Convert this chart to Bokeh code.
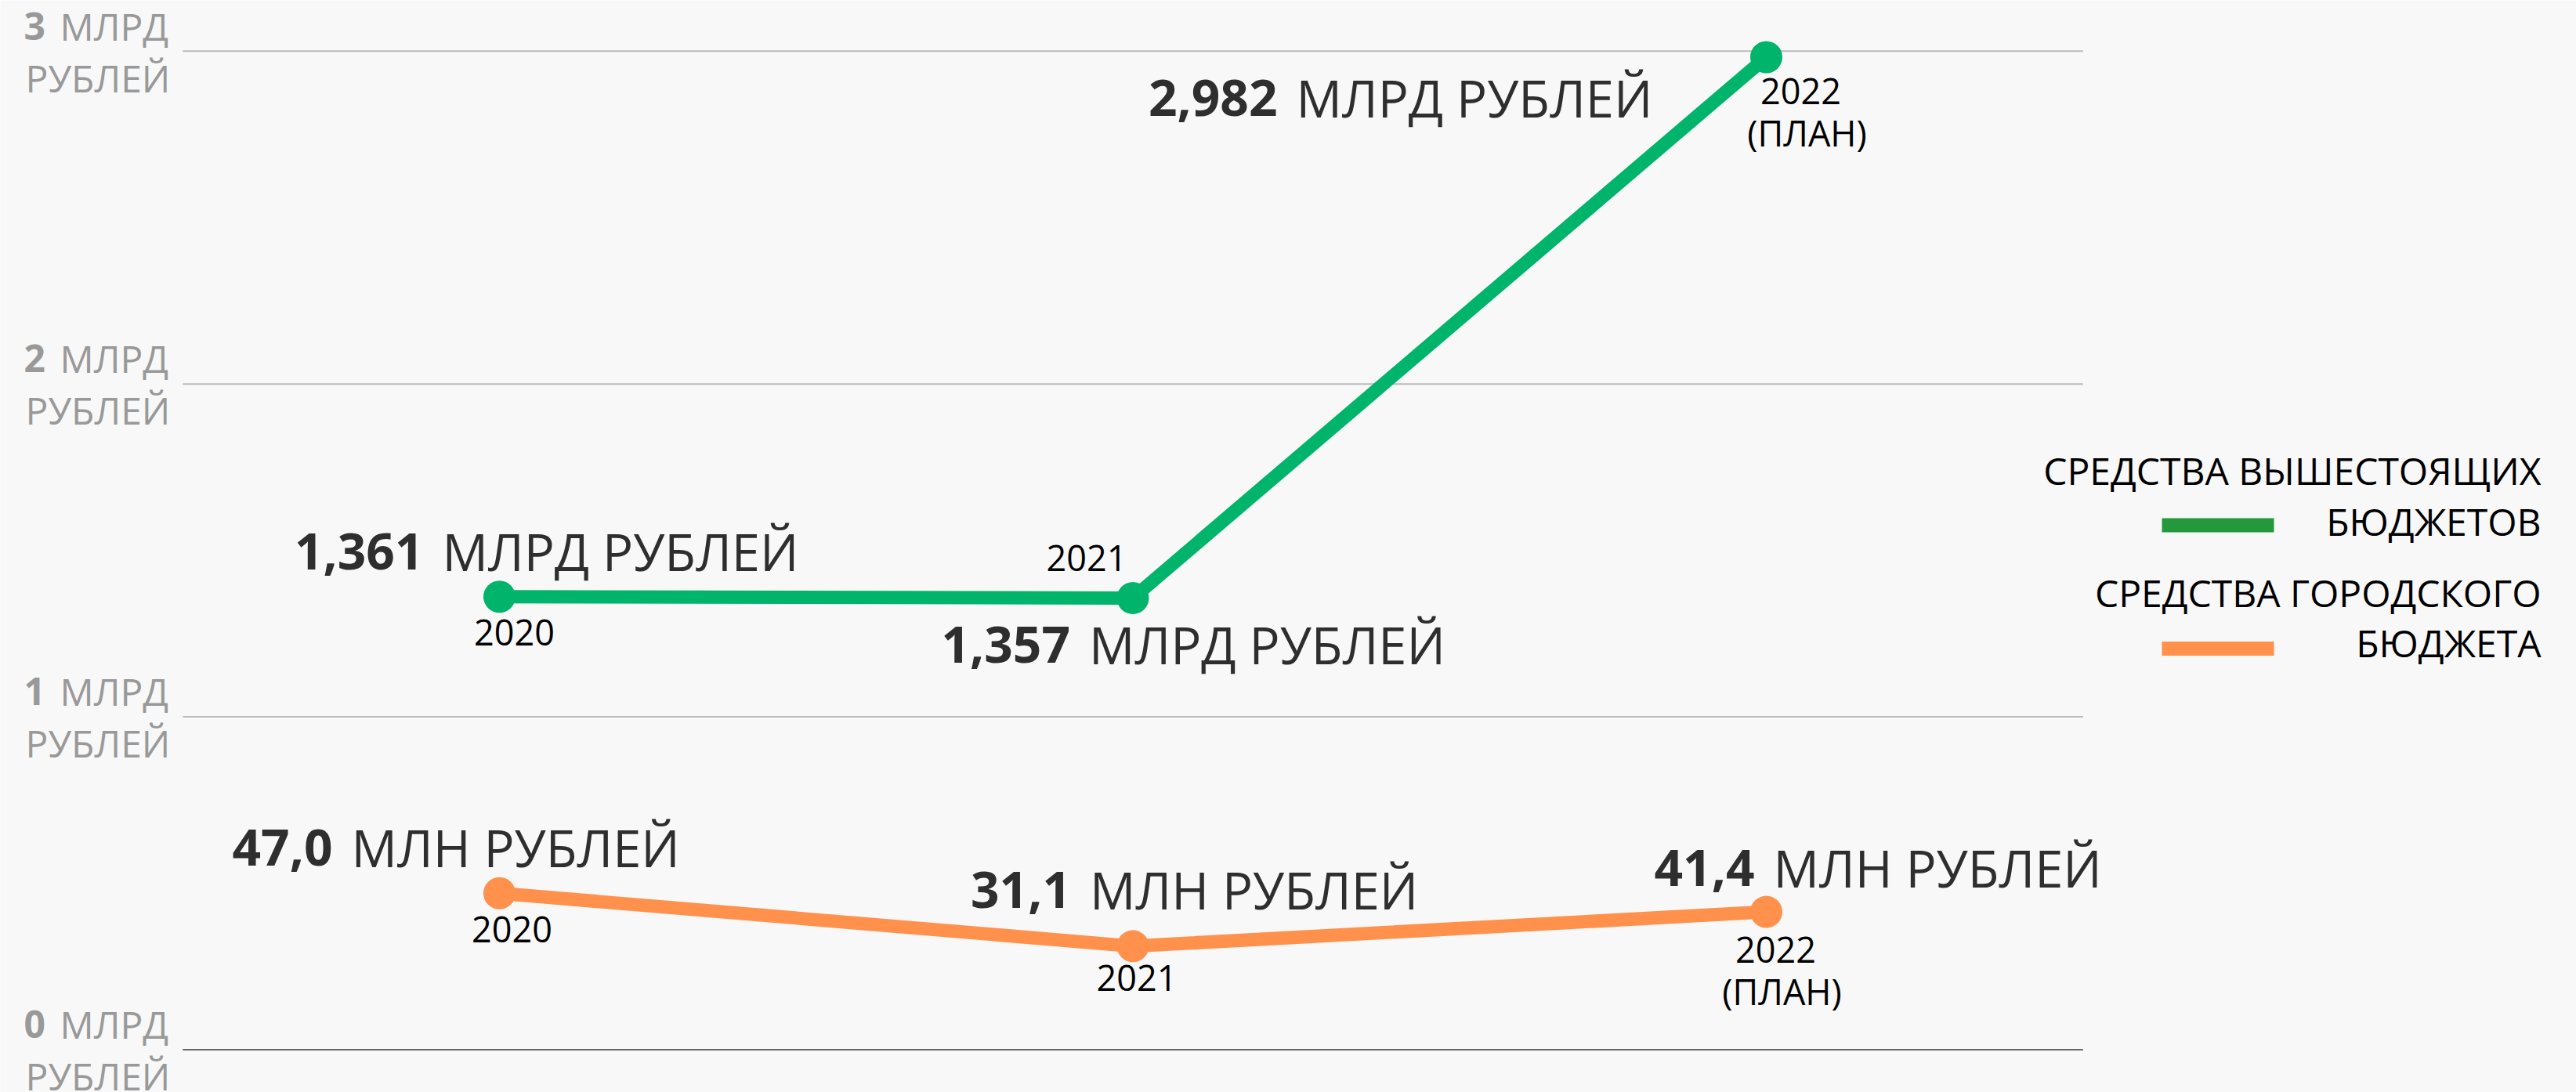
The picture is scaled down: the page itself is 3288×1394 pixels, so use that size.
from bokeh.plotting import figure
from bokeh.models import ColumnDataSource, Range1d
from bokeh.core.properties import value
from bokeh.embed import file_html
from bokeh.resources import INLINE

# ---------------- data ----------------
years = ["2020", "2021", "2022"]
plan_notes = ["", "", "(ПЛАН)"]
upper_values_bln = [1.361, 1.357, 2.982]          # средства вышестоящих бюджетов, млрд руб.
upper_value_labels = ["1,361", "1,357", "2,982"]
upper_unit = "МЛРД РУБЛЕЙ"
city_values_mln = [47.0, 31.1, 41.4]              # средства городского бюджета, млн руб.
city_value_labels = ["47,0", "31,1", "41,4"]
city_unit = "МЛН РУБЛЕЙ"
y_ticks = [0, 1, 2, 3]
y_tick_numbers = ["0", "1", "2", "3"]
y_tick_unit_top = "МЛРД"
y_tick_unit_bottom = "РУБЛЕЙ"
legend_names = [["СРЕДСТВА ВЫШЕСТОЯЩИХ", "БЮДЖЕТОВ"], ["СРЕДСТВА ГОРОДСКОГО", "БЮДЖЕТА"]]

# ---------------- layout / style ----------------
W, H, ORIGIN = 3288, 1394, 0
X0_PX, DX_PX = 637.0, 808.5       # page px of first category, px per category
Y0_PX, DY_PX = 1339.5, 424.9      # page px of value 0, px per 1 bln
BASE_FIX = 0.36                   # baseline correction (fraction of font size)

def xd(px):
    return (px - X0_PX) / DX_PX

def yd(py):
    return (Y0_PX - py) / DY_PX

def fix(dy, fs):
    return dy - BASE_FIX * fs

BG = "#f8f8f8"
GREEN = "#00b46c"
GREEN_LEGEND = "#23993c"
ORANGE = "#ff914d"
TEXT_DARK = "#2e2e2e"
AXIS_GREY = "#999999"
FONT = value("Open Sans")

p = figure(width=W, height=H, output_backend="svg", toolbar_location=None,
           x_axis_location=None, y_axis_location=None,
           x_range=Range1d(xd(ORIGIN), xd(ORIGIN + W)),
           y_range=Range1d(yd(ORIGIN + H), yd(ORIGIN)),
           min_border=0, background_fill_color=BG, border_fill_color=BG,
           outline_line_color=None)
p.xgrid.visible = False
p.ygrid.visible = False

xs = list(range(len(years)))

# grid lines
grid_src = ColumnDataSource(dict(
    x0=[xs[0] - 0.5] * len(y_ticks), x1=[xs[-1] + 0.5] * len(y_ticks),
    y=y_ticks,
    color=["#666666" if t == 0 else "#bbbbbb" for t in y_ticks]))
p.segment(x0="x0", y0="y", x1="x1", y1="y", line_color="color", line_width=2, source=grid_src)

# y tick labels
AX_FS = 48
tick_src = ColumnDataSource(dict(x=[xd(30)] * len(y_ticks), y=y_ticks, num=y_tick_numbers,
                                 top=[y_tick_unit_top] * len(y_ticks),
                                 bottom=[y_tick_unit_bottom] * len(y_ticks)))
p.text(x="x", y="y", text="num", source=tick_src, text_font=FONT, text_font_style="bold",
       text_font_size=f"{AX_FS}px", text_color=AXIS_GREY, text_align="left",
       text_baseline="alphabetic", y_offset=fix(-15, AX_FS))
p.text(x="x", y="y", text="top", source=tick_src, text_font=FONT,
       text_font_size=f"{AX_FS}px", text_color=AXIS_GREY, text_align="left",
       text_baseline="alphabetic", x_offset=46, y_offset=fix(-15, AX_FS))
p.text(x="x", y="y", text="bottom", source=tick_src, text_font=FONT,
       text_font_size=f"{AX_FS}px", text_color=AXIS_GREY, text_align="left",
       text_baseline="alphabetic", x_offset=2, y_offset=fix(51, AX_FS))

# series
VAL_FS, UNIT_FS, YEAR_FS = 64, 65, 45
city_y = [v / 100.0 for v in city_values_mln]
series = [
    dict(y=upper_values_bln, color=GREEN, labels=upper_value_labels, unit=upper_unit,
         bold_dx=[-97, -80, -624], val_dy=[-35, 83, 75],
         year_dx=[19, -59, 44], year_dy=[62, -35, 60], note_dx=[0, 0, 52], note_dy=[0, 0, 113]),
    dict(y=city_y, color=ORANGE, labels=city_value_labels, unit=city_unit,
         bold_dx=[-213, -79, -15], val_dy=[-35, -49, -33],
         year_dx=[16, 5, 12], year_dy=[62, 57, 65], note_dx=[0, 0, 20], note_dy=[0, 0, 118]),
]

for s in series:
    src = ColumnDataSource(dict(
        x=xs, y=s["y"], num=s["labels"], unit=[s["unit"]] * len(xs),
        bold_dx=s["bold_dx"], unit_dx=[d + 24 for d in s["bold_dx"]],
        val_dy=[fix(d, VAL_FS) for d in s["val_dy"]],
        year=years, year_dx=s["year_dx"], year_dy=[fix(d, YEAR_FS) for d in s["year_dy"]],
        note=plan_notes, note_dx=s["note_dx"], note_dy=[fix(d, YEAR_FS) for d in s["note_dy"]]))
    p.line(x="x", y="y", source=src, line_color=s["color"], line_width=17, line_join="round")
    p.scatter(x="x", y="y", source=src, marker="circle", size=41,
              fill_color=s["color"], line_color=None)
    p.text(x="x", y="y", text="num", source=src, text_font=FONT, text_font_style="bold",
           text_font_size=f"{VAL_FS}px", text_color=TEXT_DARK, text_align="right",
           text_baseline="alphabetic", x_offset="bold_dx", y_offset="val_dy")
    p.text(x="x", y="y", text="unit", source=src, text_font=FONT,
           text_font_size=f"{UNIT_FS}px", text_color=TEXT_DARK, text_align="left",
           text_baseline="alphabetic", x_offset="unit_dx", y_offset="val_dy")
    p.text(x="x", y="y", text="year", source=src, text_font=FONT,
           text_font_size=f"{YEAR_FS}px", text_color="#000000", text_align="center",
           text_baseline="alphabetic", x_offset="year_dx", y_offset="year_dy")
    p.text(x="x", y="y", text="note", source=src, text_font=FONT,
           text_font_size=f"{YEAR_FS}px", text_color="#000000", text_align="center",
           text_baseline="alphabetic", x_offset="note_dx", y_offset="note_dy")

# legend
LEG_FS = 48
legend_right = xd(3243)
legend_text = ColumnDataSource(dict(
    x=[legend_right] * 4,
    y=[yd(617), yd(682), yd(773), yd(837)],
    t=[legend_names[0][0], legend_names[0][1], legend_names[1][0], legend_names[1][1]]))
p.text(x="x", y="y", text="t", source=legend_text, text_font=FONT, text_font_size=f"{LEG_FS}px",
       text_color="#000000", text_align="right", text_baseline="alphabetic",
       y_offset=fix(0, LEG_FS))
for yy, col in [(yd(670), GREEN_LEGEND), (yd(827.5), ORANGE)]:
    p.line(x=[xd(2759), xd(2902)], y=[yy, yy], line_color=col, line_width=18)

html = file_html(p, INLINE)
with open("out.html", "w") as f:
    f.write(html)
